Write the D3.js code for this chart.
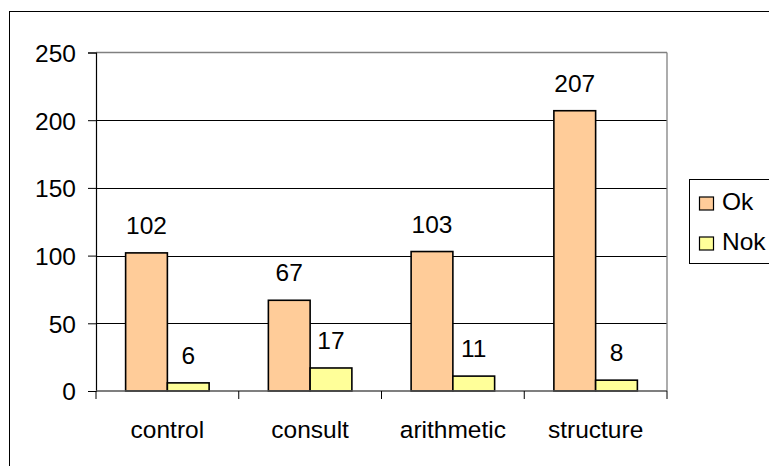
<!DOCTYPE html>
<html><head><meta charset="utf-8">
<script src="https://cdn.jsdelivr.net/npm/d3@7"></script>
<style>body{margin:0;background:#fff}svg{display:block}text{font-family:Arial,"Liberation Sans",sans-serif;fill:#000}</style>
</head><body><svg id="c" width="769" height="466"></svg>
<script>
const categories = ["control","consult","arithmetic","structure"];
const okValues = [102,67,103,207];
const nokValues = [6,17,11,8];
const seriesNames = ["Ok","Nok"];
const seriesColors = ["#FFCC99","#FFFF99"];
const yTicks = [0,50,100,150,200,250];

(function(){
const svg = d3.select("#c");
const pL=96, pR=667, pT=52.5, pB=391;
const fs = 24.5;

svg.append("rect").attr("x",9.5).attr("y",11.5).attr("width",800).attr("height",500)
  .attr("fill","#fff").attr("stroke","#000").attr("stroke-width",1);

const x = d3.scaleBand().domain(categories).range([pL,pR]).paddingInner(0).paddingOuter(0);
const y = d3.scaleLinear().domain([0,250]).range([pB,pT]);
const groupW = x.bandwidth()*0.585;
const xs = d3.scaleBand().domain(seriesNames).range([0,groupW]);

svg.append("g").selectAll("line").data(yTicks.filter(t=>t>0 && t<250)).join("line")
  .attr("x1",pL).attr("x2",pR).attr("y1",d=>Math.round(y(d))+0.5).attr("y2",d=>Math.round(y(d))+0.5)
  .attr("stroke","#000").attr("stroke-width",1);
svg.append("line").attr("x1",pL).attr("x2",pR).attr("y1",pT).attr("y2",pT).attr("stroke","#808080").attr("stroke-width",1.3);
svg.append("line").attr("x1",pR).attr("x2",pR).attr("y1",pT).attr("y2",pB).attr("stroke","#808080").attr("stroke-width",1.3);

const yAxis = d3.axisLeft(y).tickValues(yTicks).tickSize(8).tickPadding(12);
const ga = svg.append("g").attr("transform",`translate(${pL},0)`).call(yAxis);
ga.select(".domain").attr("stroke","#000").attr("stroke-width",1.2);
ga.selectAll(".tick line").attr("stroke","#000");
ga.selectAll("text").attr("font-size",fs).attr("dy","0.36em").style("font-family","Arial, 'Liberation Sans', sans-serif");

const data = categories.map((c,i)=>({c, vals:[okValues[i],nokValues[i]]}));
const g = svg.append("g");
data.forEach(d=>{
  const gx = x(d.c) + (x.bandwidth()-groupW)/2;
  d.vals.forEach((v,j)=>{
    const bx = gx + xs(seriesNames[j]);
    g.append("rect").attr("x",bx).attr("y",y(v)).attr("width",xs.bandwidth()).attr("height",pB-y(v))
      .attr("fill",seriesColors[j]).attr("stroke","#000").attr("stroke-width",1.6);
    g.append("text").attr("x",bx+xs.bandwidth()/2).attr("y",y(v)-19).attr("text-anchor","middle")
      .attr("font-size",fs).text(v);
  });
});

svg.append("line").attr("x1",pL).attr("x2",pR).attr("y1",pB).attr("y2",pB).attr("stroke","#555").attr("stroke-width",1.3);
const bounds = categories.map(c=>x(c)).concat([pR]);
svg.append("g").selectAll("line").data(bounds).join("line")
  .attr("x1",d=>d).attr("x2",d=>d).attr("y1",pB).attr("y2",pB+8).attr("stroke","#000");
svg.append("g").selectAll("text").data(categories).join("text")
  .attr("x",d=>x(d)+x.bandwidth()/2).attr("y",438).attr("text-anchor","middle").attr("font-size",fs).text(d=>d);

svg.append("rect").attr("x",689.5).attr("y",179.5).attr("width",100).attr("height",84)
  .attr("fill","#fff").attr("stroke","#000").attr("stroke-width",1);
seriesNames.forEach((n,i)=>{
  svg.append("rect").attr("x",699.5).attr("y",197+40*i).attr("width",14).attr("height",13)
    .attr("fill",seriesColors[i]).attr("stroke","#000").attr("stroke-width",1.2);
  svg.append("text").attr("x",722).attr("y",210+40*i).attr("font-size",fs).text(n);
});
})();
</script></body></html>
